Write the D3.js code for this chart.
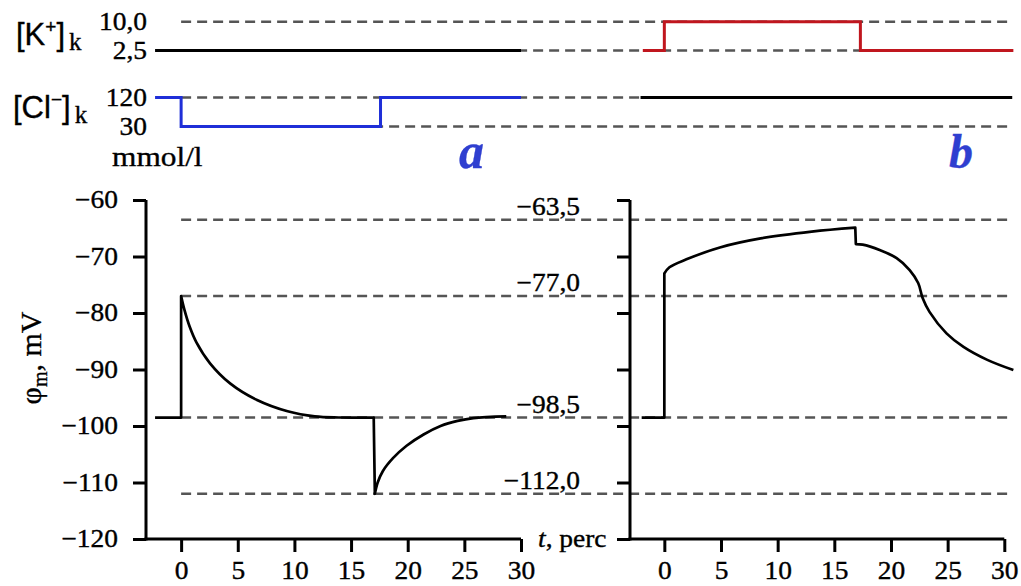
<!DOCTYPE html>
<html lang="ru">
<head>
<meta charset="UTF-8">
<title>Membrane potential</title>
<script src="https://cdn.jsdelivr.net/npm/d3@7"></script>
<style>
  body { margin: 0; background: #fff; }
  svg { display: block; font-family: "Liberation Serif", "Times New Roman", serif; }
  svg text { stroke: #000; stroke-width: 0.35px; }
</style>
</head>
<body>
<svg id="chart" width="1021" height="586"></svg>
<script>
// time ticks and potential ticks
const tTicks = [0, 5, 10, 15, 20, 25, 30];
const phiTicks = [-60, -70, -80, -90, -100, -110, -120];

// reference (dashed) levels of the potential
const refLevels = [-63.5, -77.0, -98.5, -112.0];
const refLabels = ["\u221263,5", "\u221277,0", "\u221298,5", "\u2212112,0"];

// bath concentrations, mmol/l
const kLevels = [10.0, 2.5];
const kLabels = ["10,0", "2,5"];
const clLevels = [120, 30];
const clLabels = ["120", "30"];

// panel a: chloride step, potassium constant
const kA = [[-2.3, 2.5], [30, 2.5]];
const clA = [[-2.3, 120], [0, 120], [0, 30], [17.6, 30], [17.6, 120], [30, 120]];
// panel b: potassium step, chloride constant
const kB = [[-1.9, 2.5], [0, 2.5], [0, 10], [17.3, 10], [17.3, 2.5], [30.8, 2.5]];
const clB = [[-2.1, 120], [30.7, 120]];

// membrane potential, mV (pieces, joined by vertical jumps)
const phiA = [
  [[-2.3, -98.5], [0, -98.5]],
  [[0, -77.0], [0.3, -79.5], [0.75, -82.4], [1.35, -85.2], [2.55, -88.9], [4.35, -92.5],
   [6.7, -95.4], [9.4, -97.4], [11.8, -98.3], [13.9, -98.5], [17.0, -98.5]],
  [[17.1, -112.0], [17.35, -110.0], [17.8, -108.0], [18.7, -105.7], [19.9, -103.5], [21.4, -101.5],
   [22.9, -100.0], [24.4, -99.1], [25.8, -98.6], [28.7, -98.3]]
];
const phiB = [
  [[-2.0, -98.5], [0, -98.5]],
  [[0, -73.0], [0.45, -71.9], [1.95, -70.5], [4.9, -68.4], [8.5, -66.8], [13.0, -65.6], [16.85, -64.9]],
  [[16.9, -67.8], [17.5, -67.9], [19.0, -68.85], [20.5, -70.3], [21.65, -72.4], [22.4, -74.7],
   [22.8, -77.4], [23.4, -79.8], [24.9, -83.6], [26.4, -86.0], [28.5, -88.3], [30.8, -90.1]]
];

const svg = d3.select("#chart");
const SX = 1.12; // the serif lettering in the figure is a bit wide
const FS = 24.5;

const xA = d3.scaleLinear().domain([-3.1, 30]).range([146, 521]);
const xB = d3.scaleLinear().domain([-3.03, 30]).range([630, 1004.3]);
const y = d3.scaleLinear().domain([-120, -60]).range([539, 200]);
const yK = d3.scaleLinear().domain([2.5, 10]).range([50.5, 21.7]);
const yCl = d3.scaleLinear().domain([30, 120]).range([126.5, 97.5]);

const blue = "#1f2fd8", red = "#c0161e", dashCol = "#555", letterBlue = "#2f3fd0";

function label(x, yy, s, size, anchor, opts = {}) {
  const t = svg.append("text")
    .attr("transform", `translate(${x},${yy}) scale(${opts.sx || SX},1)`)
    .attr("text-anchor", anchor || "start")
    .style("font-size", size + "px")
    .style("fill", opts.fill || "#000")
    .style("stroke", opts.fill || "#000")
    .text(s);
  if (opts.italic) t.style("font-style", "italic");
  if (opts.bold) t.style("font-weight", "bold");
  return t;
}

// dashed reference lines (under everything)
svg.append("g").selectAll("line")
  .data(refLevels).enter().append("line")
  .attr("x1", xA(0)).attr("x2", xB(30.3))
  .attr("y1", d => y(d)).attr("y2", d => y(d))
  .attr("stroke", dashCol).attr("stroke-width", 2.4).attr("stroke-dasharray", "10,6");

const topRefs = kLevels.map(v => yK(v)).concat(clLevels.map(v => yCl(v)));
svg.append("g").selectAll("line")
  .data(topRefs).enter().append("line")
  .attr("x1", xA(0)).attr("x2", xB(30.7))
  .attr("y1", d => d).attr("y2", d => d)
  .attr("stroke", dashCol).attr("stroke-width", 2.4).attr("stroke-dasharray", "10,6");

// concentration steps
function step(data, xs, ys, color) {
  svg.append("path")
    .attr("d", d3.line().x(d => xs(d[0])).y(d => ys(d[1]))(data))
    .attr("fill", "none").attr("stroke", color).attr("stroke-width", 3);
}
step(kA, xA, yK, "#000");
step(clA, xA, yCl, blue);
step(kB, xB, yK, red);
step(clB, xB, yCl, "#000");

// potential curves
function curve(pieces, xs) {
  const line = d3.line().x(d => xs(d[0])).y(d => y(d[1])).curve(d3.curveCatmullRom.alpha(0.5));
  const d = pieces.map((p, i) => {
    const s = line(p);
    return i === 0 ? s : "L" + s.slice(1);
  }).join("");
  svg.append("path").attr("d", d)
    .attr("fill", "none").attr("stroke", "#000").attr("stroke-width", 2.7)
    .attr("stroke-linejoin", "round");
}
curve(phiA, xA);
curve(phiB, xB);

// axes
function axes(xs, withYLabels) {
  const gy = svg.append("g").attr("transform", `translate(${xs.range()[0]},0)`)
    .call(d3.axisLeft(y).tickValues(phiTicks).tickSize(13).tickSizeOuter(0)
      .tickFormat(withYLabels ? d3.format("d") : ""));
  const gx = svg.append("g").attr("transform", `translate(0,${y(-120)})`)
    .call(d3.axisBottom(xs).tickValues(tTicks).tickSize(13).tickSizeOuter(0));
  [gy, gx].forEach(g => {
    g.selectAll("path, line").attr("stroke", "#000").attr("stroke-width", 3);
    g.selectAll("text").style("font-size", FS + "px").style("font-family", "Liberation Serif").attr("fill", "#000");
  });
  gy.select(".domain").attr("d", `M0,${y(-60)}V${y(-120) + 1.5}`);
  gx.select(".domain").attr("d", `M${xs.range()[0] - 1.5},0H${xs.range()[1]}`);
  gy.selectAll("text").attr("x", -28 / SX).attr("transform", `scale(${SX},1)`);
  gx.selectAll("text").attr("y", 40).attr("dy", 0).attr("transform", `scale(${SX},1)`);
}
axes(xA, true);
axes(xB, false);

// reference labels between the panels
refLevels.forEach((v, i) => label(580, y(v) - 5, refLabels[i], FS, "end"));

// concentration tick labels
kLevels.forEach((v, i) => label(147, yK(v) + 8, kLabels[i], FS, "end"));
clLevels.forEach((v, i) => label(147, yCl(v) + 8, clLabels[i], FS, "end"));

// [K+]k and [Cl-]k
function ionLabel(x, yy, ion, charge) {
  const t = svg.append("text").attr("x", x).attr("y", yy);
  t.append("tspan").style("font-family", "Liberation Sans").style("font-size", "31px").text("[" + ion);
  t.append("tspan").style("font-family", "Liberation Sans").style("font-size", "19px").attr("dy", -12).text(charge);
  t.append("tspan").style("font-family", "Liberation Sans").style("font-size", "31px").attr("dy", 12).text("]");
  t.append("tspan").style("font-size", "25px").attr("dx", 4).attr("dy", 5).text("k");
}
ionLabel(16, 45, "K", "+");
ionLabel(13, 118, "Cl", "\u2212");

label(112, 166, "mmol/l", 28, "start");
label(459, 168, "a", 50, "start", { sx: 1, italic: true, bold: true, fill: letterBlue });
label(949, 168, "b", 48, "start", { sx: 1, italic: true, bold: true, fill: letterBlue });

// y axis title
const yt = svg.append("text")
  .attr("transform", "translate(41,358) rotate(-90)")
  .attr("text-anchor", "middle").style("font-size", "30px");
yt.append("tspan").text("\u03c6");
yt.append("tspan").style("font-size", "20px").attr("dy", 6).text("m");
yt.append("tspan").attr("dy", -6).text(", mV");

// time axis title
const tt = svg.append("text")
  .attr("transform", `translate(538,${y(-120) + 8}) scale(${SX},1)`)
  .style("font-size", FS + "px");
tt.append("tspan").style("font-style", "italic").text("t");
tt.append("tspan").text(", perc");
</script>
</body>
</html>
